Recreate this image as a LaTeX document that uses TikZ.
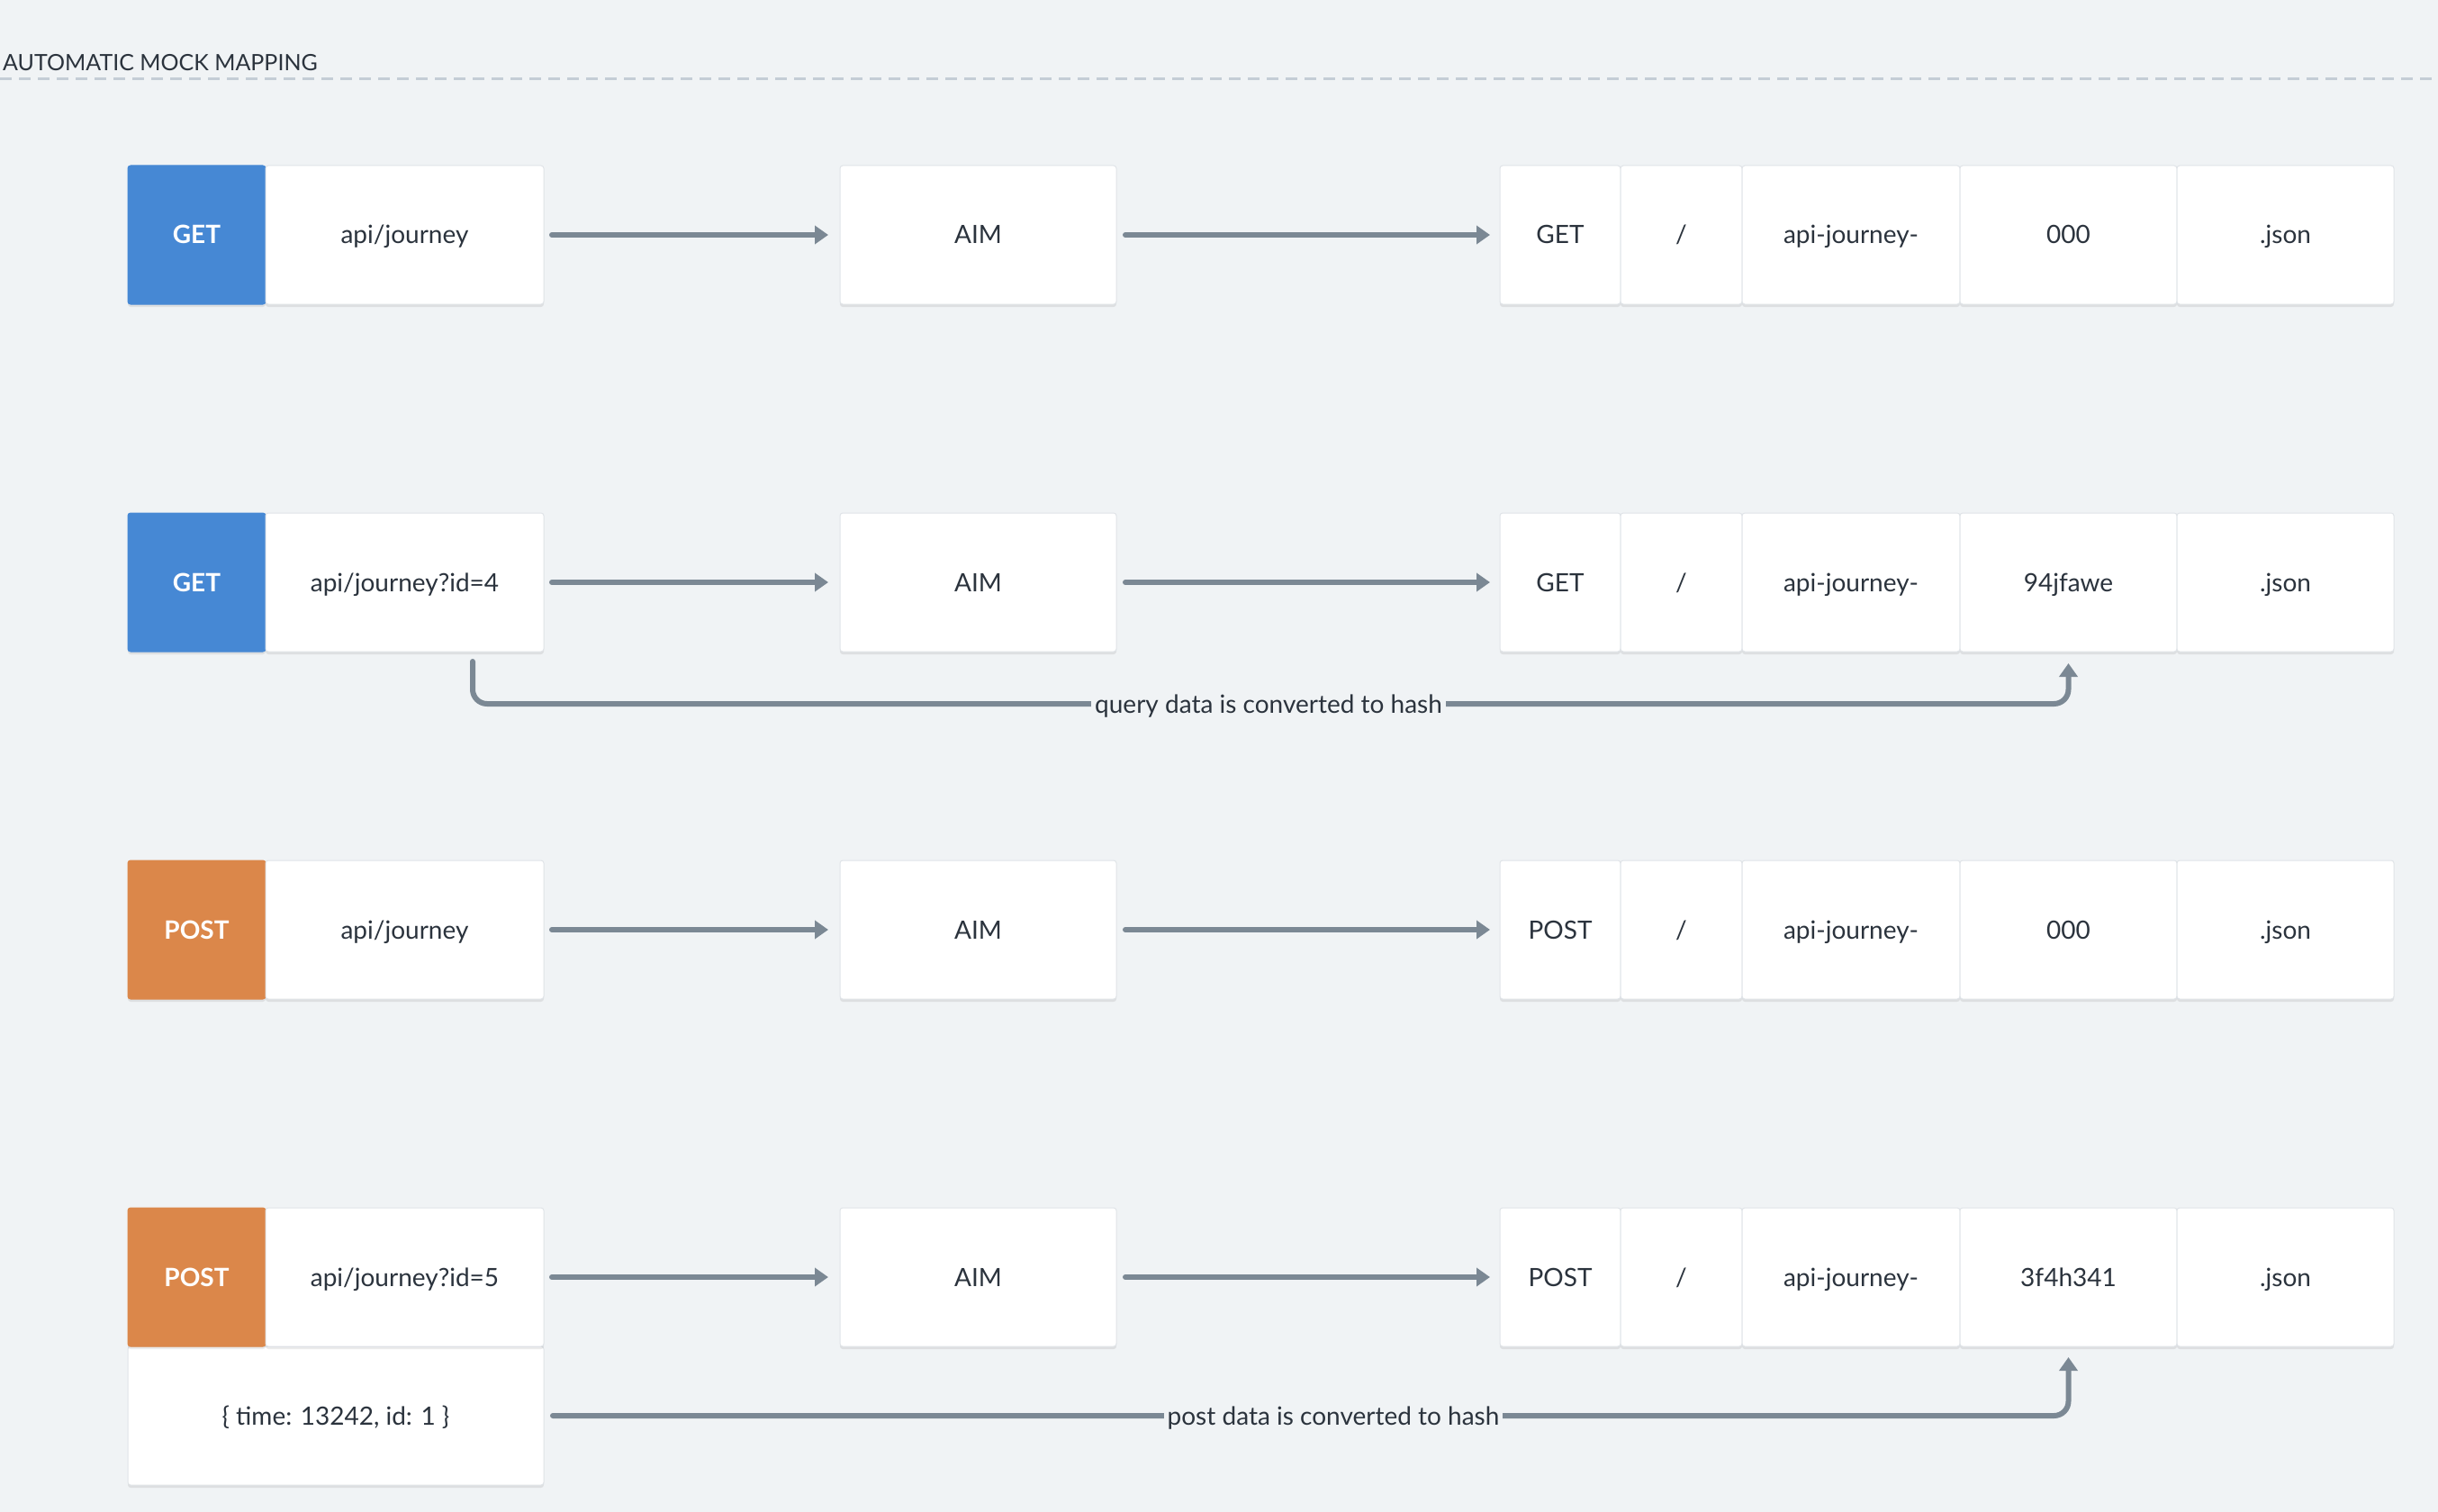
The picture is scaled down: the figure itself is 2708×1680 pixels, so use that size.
\documentclass[tikz,border=0pt]{standalone}
\usepackage{fontspec}
\setmainfont{Lato}
\usetikzlibrary{arrows.meta,shadows}
\definecolor{bg}{HTML}{F0F3F5}
\definecolor{txt}{HTML}{2B333D}
\definecolor{getc}{HTML}{4688D4}
\definecolor{postc}{HTML}{DB874A}
\definecolor{linec}{HTML}{7B8894}
\definecolor{boxline}{HTML}{E0E4E8}
\definecolor{dashc}{HTML}{C4CDD6}
\newcommand{\boxfont}{\fontsize{28}{32}\selectfont}
\tikzset{
  cell/.style={draw=boxline, line width=1pt, fill=white, rounded corners=3pt,
    inner sep=0pt, outer sep=0pt, anchor=north west, minimum height=154pt,
    text=txt, font=\boxfont, text height=20pt, text depth=0pt,
    drop shadow={shadow xshift=0pt, shadow yshift=-3pt, opacity=0.08, fill=black}},
  getbox/.style={cell, draw=getc, fill=getc, text=white, font=\boxfont\bfseries},
  postbox/.style={cell, draw=postc, fill=postc, text=white, font=\boxfont\bfseries},
  flow/.style={draw=linec, line width=6pt, line cap=round,
    -{Triangle[length=15pt,width=20pt]}},
  lbl/.style={fill=bg, text=txt, font=\boxfont, inner xsep=4pt, inner ysep=8pt,
    text height=20pt, text depth=0pt},
}
\begin{document}
\begin{tikzpicture}[x=1pt,y=-1pt]
\fill[bg] (0,0) rectangle (2708,1680);
\useasboundingbox (0,0) rectangle (2708,1680);
% title
\node[anchor=west, text=txt, font=\fontsize{25}{30}\selectfont, inner sep=0pt, text height=18pt, text depth=0pt] (title) at (3,70) {AUTOMATIC MOCK MAPPING};
\draw[dashc, line width=3pt, dash pattern=on 13pt off 8pt] (0,88) -- (2708,88);

% row 1
\node[getbox, minimum width=153pt] (m1) at (142,184) {GET};
\node[cell, minimum width=309pt] (p1) at (295,184) {api/journey};
\node[cell, minimum width=307pt] (a1) at (933,184) {AIM};
\node[cell, minimum width=134pt] (g1) at (1666,184) {GET};
\node[cell, minimum width=135pt] (s1) at (1800,184) {/};
\node[cell, minimum width=242pt] (n1) at (1935,184) {api-journey-};
\node[cell, minimum width=241pt] (h1) at (2177,184) {000};
\node[cell, minimum width=241pt] (j1) at (2418,184) {.json};
\draw[flow, shorten <=9pt, shorten >=13pt] (p1.east) -- (a1.west);
\draw[flow, shorten <=10pt, shorten >=11pt] (a1.east) -- (g1.west);

% row 2
\node[getbox, minimum width=153pt] (m2) at (142,570) {GET};
\node[cell, minimum width=309pt] (p2) at (295,570) {api/journey?id=4};
\node[cell, minimum width=307pt] (a2) at (933,570) {AIM};
\node[cell, minimum width=134pt] (g2) at (1666,570) {GET};
\node[cell, minimum width=135pt] (s2) at (1800,570) {/};
\node[cell, minimum width=242pt] (n2) at (1935,570) {api-journey-};
\node[cell, minimum width=241pt] (h2) at (2177,570) {94jfawe};
\node[cell, minimum width=241pt] (j2) at (2418,570) {.json};
\draw[flow, shorten <=9pt, shorten >=13pt] (p2.east) -- (a2.west);
\draw[flow, shorten <=10pt, shorten >=11pt] (a2.east) -- (g2.west);
\coordinate (qs) at (525,735);
\coordinate (qm) at (1409,782);
\coordinate (qe) at ([yshift=-13pt]h2.south);
\draw[flow, rounded corners=16pt] (qs) |- (qm) -| (qe);
\node[lbl] (ql) at (qm) {query data is converted to hash};

% row 3
\node[postbox, minimum width=153pt] (m3) at (142,956) {POST};
\node[cell, minimum width=309pt] (p3) at (295,956) {api/journey};
\node[cell, minimum width=307pt] (a3) at (933,956) {AIM};
\node[cell, minimum width=134pt] (g3) at (1666,956) {POST};
\node[cell, minimum width=135pt] (s3) at (1800,956) {/};
\node[cell, minimum width=242pt] (n3) at (1935,956) {api-journey-};
\node[cell, minimum width=241pt] (h3) at (2177,956) {000};
\node[cell, minimum width=241pt] (j3) at (2418,956) {.json};
\draw[flow, shorten <=9pt, shorten >=13pt] (p3.east) -- (a3.west);
\draw[flow, shorten <=10pt, shorten >=11pt] (a3.east) -- (g3.west);

% row 4
\node[cell, minimum width=462pt] (pd) at (142,1496) {\{ time: 13242, id: 1 \}};
\node[postbox, minimum width=153pt] (m4) at (142,1342) {POST};
\node[cell, minimum width=309pt] (p4) at (295,1342) {api/journey?id=5};
\node[cell, minimum width=307pt] (a4) at (933,1342) {AIM};
\node[cell, minimum width=134pt] (g4) at (1666,1342) {POST};
\node[cell, minimum width=135pt] (s4) at (1800,1342) {/};
\node[cell, minimum width=242pt] (n4) at (1935,1342) {api-journey-};
\node[cell, minimum width=241pt] (h4) at (2177,1342) {3f4h341};
\node[cell, minimum width=241pt] (j4) at (2418,1342) {.json};
\draw[flow, shorten <=9pt, shorten >=13pt] (p4.east) -- (a4.west);
\draw[flow, shorten <=10pt, shorten >=11pt] (a4.east) -- (g4.west);
\coordinate (ps) at ([xshift=10pt]pd.east);
\coordinate (pm) at (1481,1573);
\coordinate (pe) at ([yshift=-12pt]h4.south);
\draw[flow, rounded corners=16pt] (ps) -- (pm) -| (pe);
\node[lbl] (pl) at (pm) {post data is converted to hash};
\end{tikzpicture}
\end{document}
